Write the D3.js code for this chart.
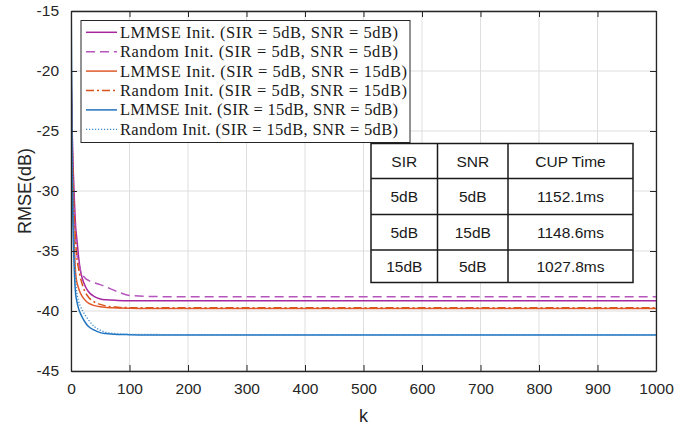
<!DOCTYPE html>
<html><head><meta charset="utf-8">
<script src="https://cdn.jsdelivr.net/npm/d3@7/dist/d3.min.js"></script>
<style>body{margin:0;background:#fff}svg{display:block}</style>
</head><body>
<svg id="c" width="692" height="428"></svg>
<script>
const kValues = [0, 2, 4, 6, 8, 10, 13, 16, 20, 25, 30, 40, 50, 60, 80, 100, 150, 200, 300, 400, 500, 600, 700, 800, 900, 1000];
const lmmse5_5  = [-20, -25, -28.5, -31, -33, -34.0, -35.5, -36.6, -37.4, -38.0, -38.4, -38.8, -39.0, -39.07, -39.12, -39.14, -39.15, -39.15, -39.15, -39.15, -39.15, -39.15, -39.15, -39.15, -39.15, -39.15];
const random5_5 = [-22, -27, -30, -32.3, -34, -35.2, -36.0, -36.6, -37.0, -37.3, -37.45, -37.65, -37.8, -38.0, -38.4, -38.7, -38.8, -38.82, -38.82, -38.82, -38.82, -38.82, -38.82, -38.82, -38.82, -38.82];
const lmmse5_15 = [-18, -27, -32, -35, -36.9, -37.6, -38.1, -38.5, -38.85, -39.15, -39.35, -39.55, -39.65, -39.7, -39.75, -39.77, -39.8, -39.8, -39.8, -39.8, -39.8, -39.8, -39.8, -39.8, -39.8, -39.8];
const random5_15 = [-20, -26, -30, -32.5, -34.3, -35.5, -36.5, -37.2, -37.9, -38.5, -38.85, -39.25, -39.45, -39.58, -39.68, -39.72, -39.73, -39.73, -39.73, -39.73, -39.73, -39.73, -39.73, -39.73, -39.73, -39.73];
const lmmse15_5 = [-12, -28, -34, -37, -38.6, -39.2, -39.8, -40.2, -40.6, -41.0, -41.3, -41.6, -41.8, -41.88, -41.95, -41.97, -42.0, -42.0, -42.0, -42.0, -42.0, -42.0, -42.0, -42.0, -42.0, -42.0];
const random15_5 = [-15, -26, -32, -35.5, -37.5, -38.5, -39.2, -39.6, -40.0, -40.4, -40.75, -41.3, -41.6, -41.78, -41.9, -41.94, -41.96, -41.97, -41.97, -41.97, -41.97, -41.97, -41.97, -41.97, -41.97, -41.97];
const seriesNames = [
  "LMMSE Init. (SIR = 5dB, SNR = 5dB)",
  "Random Init. (SIR = 5dB, SNR = 5dB)",
  "LMMSE Init. (SIR = 5dB, SNR = 15dB)",
  "Random Init. (SIR = 5dB, SNR = 15dB)",
  "LMMSE Init. (SIR = 15dB, SNR = 5dB)",
  "Random Init. (SIR = 15dB, SNR = 5dB)"
];
const xTicks = [0, 100, 200, 300, 400, 500, 600, 700, 800, 900, 1000];
const yTicks = [-45, -40, -35, -30, -25, -20, -15];
const tableHeader = ["SIR", "SNR", "CUP Time"];
const tableRows = [["5dB", "5dB", "1152.1ms"], ["5dB", "15dB", "1148.6ms"], ["15dB", "5dB", "1027.8ms"]];

const seriesValues = [lmmse5_5, random5_5, lmmse5_15, random5_15, lmmse15_5, random15_5];
const styles = [
  {color: "#A6279E", dash: null, w: 1.5},
  {color: "#B555BC", dash: "9,5", w: 1.5},
  {color: "#E05A2B", dash: null, w: 1.5},
  {color: "#D95319", dash: "8,3,2,3", w: 1.5},
  {color: "#1F73BE", dash: null, w: 1.5},
  {color: "#3A8AD0", dash: "1.2,1.8", w: 1.3}
];

const L = 71, R = 656, T = 11, B = 371;
const svg = d3.select("#c");
const x = d3.scaleLinear().domain([0, 1000]).range([L, R]);
const y = d3.scaleLinear().domain([-45, -15]).range([B, T]);
const axisColor = "#262626";
const tickFont = "Liberation Sans, Arial, sans-serif";
const fmt = d => String(d);

svg.append("defs").append("clipPath").attr("id", "clip")
  .append("rect").attr("x", L).attr("y", T).attr("width", R - L).attr("height", B - T);

// grid
const grid = svg.append("g");
xTicks.forEach(t => grid.append("line").attr("x1", x(t)).attr("x2", x(t)).attr("y1", T).attr("y2", B)
  .attr("stroke", "#dedede").attr("stroke-width", 1));
yTicks.forEach(t => grid.append("line").attr("x1", L).attr("x2", R).attr("y1", y(t)).attr("y2", y(t))
  .attr("stroke", "#dedede").attr("stroke-width", 1));

// lines
const line = d3.line().x((d, i) => x(kValues[i])).y(d => y(d)).curve(d3.curveMonotoneX);
const lg = svg.append("g").attr("clip-path", "url(#clip)");
seriesValues.forEach((vals, i) => {
  lg.append("path").datum(vals).attr("d", line).attr("fill", "none")
    .attr("stroke", styles[i].color).attr("stroke-width", styles[i].w)
    .attr("stroke-dasharray", styles[i].dash);
});

// axes (ticks inside)
const axB = d3.axisBottom(x).tickValues(xTicks).tickFormat(fmt).tickSizeInner(-6).tickSizeOuter(0).tickPadding(12);
const axL = d3.axisLeft(y).tickValues(yTicks).tickFormat(fmt).tickSizeInner(-6).tickSizeOuter(0).tickPadding(12);
const axT = d3.axisTop(x).tickValues(xTicks).tickSizeInner(-6).tickSizeOuter(0).tickFormat("");
const axR = d3.axisRight(y).tickValues(yTicks).tickSizeInner(-6).tickSizeOuter(0).tickFormat("");
function styleAxis(g) {
  g.selectAll("path").attr("stroke", axisColor).attr("stroke-width", 1.3);
  g.selectAll("line").attr("stroke", axisColor).attr("stroke-width", 1);
  g.selectAll("text").attr("fill", axisColor).style("font-family", tickFont).style("font-size", "15.5px");
}
svg.append("g").attr("transform", `translate(0,${B})`).call(axB).call(styleAxis);
svg.append("g").attr("transform", `translate(${L},0)`).call(axL).call(styleAxis);
svg.append("g").attr("transform", `translate(0,${T})`).call(axT).call(styleAxis);
svg.append("g").attr("transform", `translate(${R},0)`).call(axR).call(styleAxis);

// axis labels
svg.append("text").attr("x", x(500)).attr("y", 422).attr("text-anchor", "middle")
  .attr("fill", axisColor).style("font-family", tickFont).style("font-size", "18px").text("k");
svg.append("text").attr("transform", `translate(31,${(T + B) / 2}) rotate(-90)`).attr("text-anchor", "middle")
  .attr("fill", axisColor).style("font-family", tickFont).style("font-size", "18px").text("RMSE(dB)");

// legend
const leg = svg.append("g");
const legX = 81, legY = 20.5, legW = 329, legH = 122, rowH = 19.4, row0 = 32.3;
leg.append("rect").attr("x", legX).attr("y", legY).attr("width", legW).attr("height", legH)
  .attr("fill", "#fff").attr("stroke", axisColor).attr("stroke-width", 1);
seriesNames.forEach((name, i) => {
  const cy = row0 + i * rowH;
  leg.append("line").attr("x1", 86).attr("x2", 117).attr("y1", cy).attr("y2", cy)
    .attr("stroke", styles[i].color).attr("stroke-width", styles[i].w)
    .attr("stroke-dasharray", styles[i].dash);
  const w = name.indexOf("15dB)") >= 0 ? 287 : 278;
  leg.append("text").attr("x", 120).attr("y", cy + 5.5)
    .attr("fill", "#1a1a1a").style("font-family", "Liberation Serif, Times New Roman, serif")
    .style("font-size", "16.5px").attr("textLength", w).attr("lengthAdjust", "spacing").text(name);
});

// table
const tb = svg.append("g");
const colX = [371, 437.5, 508, 633];
const rowY = [143.5, 178.5, 214.5, 250, 282.5];
tb.append("rect").attr("x", colX[0]).attr("y", rowY[0]).attr("width", colX[3] - colX[0]).attr("height", rowY[4] - rowY[0])
  .attr("fill", "#fff").attr("stroke", "#1a1a1a").attr("stroke-width", 1.5);
colX.slice(1, 3).forEach(cx => tb.append("line").attr("x1", cx).attr("x2", cx).attr("y1", rowY[0]).attr("y2", rowY[4])
  .attr("stroke", "#1a1a1a").attr("stroke-width", 1.5));
rowY.slice(1, 4).forEach(ry => tb.append("line").attr("x1", colX[0]).attr("x2", colX[3]).attr("y1", ry).attr("y2", ry)
  .attr("stroke", "#1a1a1a").attr("stroke-width", 1.5));
[tableHeader].concat(tableRows).forEach((row, r) => {
  row.forEach((cell, c) => {
    tb.append("text").attr("x", (colX[c] + colX[c + 1]) / 2).attr("y", (rowY[r] + rowY[r + 1]) / 2 + 5.5)
      .attr("text-anchor", "middle").attr("fill", "#1a1a1a")
      .style("font-family", tickFont).style("font-size", "15.5px").text(cell);
  });
});
</script>
</body></html>
